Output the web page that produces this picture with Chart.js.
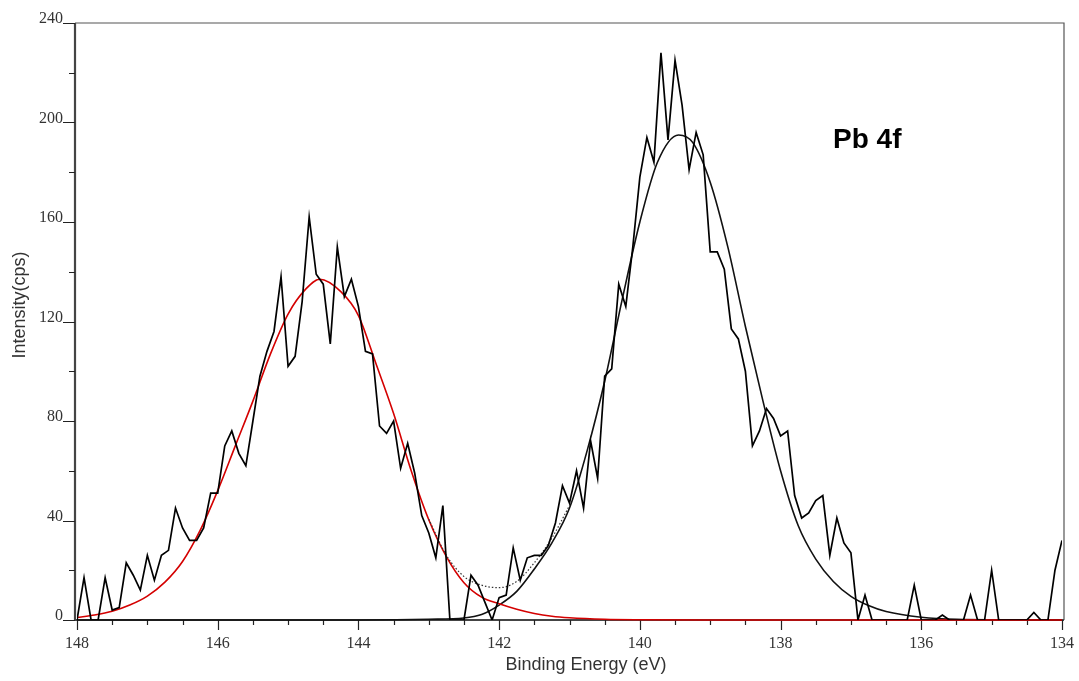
<!DOCTYPE html>
<html>
<head>
<meta charset="utf-8">
<script src="https://cdn.jsdelivr.net/npm/chart.js@4.4.1/dist/chart.umd.min.js"></script>
<style>
  html, body { margin: 0; padding: 0; background: #fff; }
  #wrap { width: 1079px; height: 681px; }
</style>
</head>
<body>
<div id="wrap"><canvas id="myChart" width="1079" height="681"></canvas></div>
<script>
"use strict";

// measured spectrum, binding energy (eV) vs counts
var energy = [
    148.0, 147.9, 147.8, 147.7, 147.6, 147.5, 147.4, 147.3, 147.2, 147.1,
    147.0, 146.9, 146.8, 146.7, 146.6, 146.5, 146.4, 146.3, 146.2, 146.1,
    146.0, 145.9, 145.8, 145.7, 145.6, 145.5, 145.4, 145.3, 145.2, 145.1,
    145.0, 144.9, 144.8, 144.7, 144.6, 144.5, 144.4, 144.3, 144.2, 144.1,
    144.0, 143.9, 143.8, 143.7, 143.6, 143.5, 143.4, 143.3, 143.2, 143.1,
    143.0, 142.9, 142.8, 142.7, 142.6, 142.5, 142.4, 142.3, 142.2, 142.1,
    142.0, 141.9, 141.8, 141.7, 141.6, 141.5, 141.4, 141.3, 141.2, 141.1,
    141.0, 140.9, 140.8, 140.7, 140.6, 140.5, 140.4, 140.3, 140.2, 140.1,
    140.0, 139.9, 139.8, 139.7, 139.6, 139.5, 139.4, 139.3, 139.2, 139.1,
    139.0, 138.9, 138.8, 138.7, 138.6, 138.5, 138.4, 138.3, 138.2, 138.1,
    138.0, 137.9, 137.8, 137.7, 137.6, 137.5, 137.4, 137.3, 137.2, 137.1,
    137.0, 136.9, 136.8, 136.7, 136.6, 136.5, 136.4, 136.3, 136.2, 136.1,
    136.0, 135.9, 135.8, 135.7, 135.6, 135.5, 135.4, 135.3, 135.2, 135.1,
    135.0, 134.9, 134.8, 134.7, 134.6, 134.5, 134.4, 134.3, 134.2, 134.1,
    134.0
];
var counts = [
    0, 17, 0, 0, 17, 4, 5, 23, 18, 12,
    26, 16, 26, 28, 45, 37, 32, 32, 37, 51,
    51, 70, 76, 67, 62, 80, 98, 108, 116, 138,
    102, 106, 128, 162, 139, 135, 111, 150, 130, 137,
    126, 108, 107, 78, 75, 80, 61, 71, 59, 42,
    35, 25, 46, 0, 0, 0, 18, 14, 7, 0,
    9, 10, 29, 16, 25, 26, 26, 30, 39, 54,
    47, 60, 45, 72, 57, 98, 101, 135, 126, 150,
    178, 194, 184, 228, 193, 225, 207, 181, 196, 187,
    148, 148, 141, 117, 113, 100, 70, 76, 85, 81,
    74, 76, 50, 41, 43, 48, 50, 26, 41, 31,
    27, 0, 10, 0, 0, 0, 0, 0, 0, 14,
    0, 0, 0, 2, 0, 0, 0, 10, 0, 0,
    20, 0, 0, 0, 0, 0, 3, 0, 0, 20,
    32
];

// fitted component at higher binding energy (red)
var redFitE = [148, 147.75, 147.5, 147.25, 147, 146.75, 146.5, 146.25, 146, 145.75,
    145.5, 145.25, 145, 144.75, 144.55, 144.25, 144, 143.75, 143.5, 143.25,
    143, 142.75, 142.5, 142.25, 142, 141.75, 141.5, 141.25, 141, 140.5,
    140, 139, 134];
var redFitY = [1, 2, 3.5, 6, 9.6, 15.2, 23.5, 36, 52, 70,
    88, 107, 123, 133, 137, 132, 122.4, 103, 83, 60,
    40.3, 25.5, 15, 9.2, 6.5, 4.3, 2.6, 1.5, 0.9, 0.3,
    0.1, 0, 0];

// fitted component at lower binding energy (black)
var blackFitE = [148, 144, 143.5, 143, 142.5, 142.25, 142, 141.75, 141.5, 141.25,
    141, 140.75, 140.5, 140.25, 140, 139.75, 139.45, 139.25, 139, 138.75,
    138.5, 138.25, 138, 137.75, 137.5, 137.25, 137, 136.75, 136.5, 136, 135.5, 134];
var blackFitY = [0, 0, 0.1, 0.3, 0.8, 2.2, 6, 11.5, 20.5, 31,
    45, 68, 96, 129, 160, 184, 195, 192, 176, 150,
    118, 88, 60, 38, 24.5, 15.5, 9.5, 5.8, 3.4, 1.1, 0.3, 0];

// envelope (sum of fits), dotted where the two overlap
var envE = [143.0, 142.75, 142.5, 142.25, 142.0, 141.75, 141.5, 141.25, 141.0];
var envY = [40.5, 26, 17.5, 14, 13, 15.5, 23, 33, 46];

var xTickLabels = [148, 146, 144, 142, 140, 138, 136, 134];
var yTickLabels = [0, 40, 80, 120, 160, 200, 240];

function pts(xs, ys) {
    return xs.map(function (x, i) { return { x: x, y: ys[i] }; });
}

var framePlugin = {
    id: 'frame',
    beforeDatasetsDraw: function (chart) {
        var ctx = chart.ctx, a = chart.chartArea;
        var xs = chart.scales.x, ys = chart.scales.y;
        var l = a.left - 2, r = a.right + 2, t = a.top, b = a.bottom;
        ctx.save();
        ctx.strokeStyle = '#555';
        ctx.lineWidth = 1.2;
        ctx.beginPath();
        ctx.moveTo(l, t); ctx.lineTo(r, t); ctx.lineTo(r, b);
        ctx.stroke();
        ctx.strokeStyle = '#444';
        ctx.lineWidth = 2.2;
        ctx.beginPath();
        ctx.moveTo(l, t); ctx.lineTo(l, b); ctx.lineTo(r, b);
        ctx.stroke();

        ctx.strokeStyle = '#222';
        ctx.lineWidth = 1.2;
        ctx.beginPath();
        var v, p;
        for (v = 0; v <= 240; v += 20) {
            p = Math.round(ys.getPixelForValue(v)) + 0.5;
            ctx.moveTo(l - (v % 40 === 0 ? 12 : 6), p);
            ctx.lineTo(l, p);
        }
        for (v = 134; v <= 148; v += 0.5) {
            p = Math.round(xs.getPixelForValue(v)) + 0.5;
            ctx.moveTo(p, b);
            ctx.lineTo(p, b + (v % 2 === 0 ? 10 : 5));
        }
        ctx.stroke();
        ctx.restore();
    },
    afterDraw: function (chart) {
        var ctx = chart.ctx;
        ctx.save();
        ctx.fillStyle = '#333';
        ctx.font = '18px "Liberation Sans", Arial, sans-serif';
        ctx.textAlign = 'center';
        ctx.textBaseline = 'middle';
        ctx.fillText('Binding Energy (eV)', 586, 665);
        ctx.translate(20, 305);
        ctx.rotate(-Math.PI / 2);
        ctx.fillText('Intensity(cps)', 0, 0);
        ctx.restore();

        ctx.save();
        ctx.fillStyle = '#000';
        ctx.font = 'bold 28px "Liberation Sans", Arial, sans-serif';
        ctx.textAlign = 'left';
        ctx.textBaseline = 'alphabetic';
        ctx.fillText('Pb 4f', 833, 148);
        ctx.restore();
    }
};

var tickFont = { family: '"Liberation Serif", "Times New Roman", serif', size: 16 };

var ctx = document.getElementById("myChart");
var myChart = new Chart(ctx, {
    type: 'line',
    data: {
        datasets: [{
            label: 'Data',
            data: pts(energy, counts),
            borderColor: '#000',
            borderWidth: 1.7,
            pointRadius: 0,
            tension: 0,
            order: 0
        }, {
            label: 'Envelope',
            data: pts(envE, envY),
            borderColor: '#333',
            borderWidth: 1.2,
            borderDash: [1.5, 2],
            pointRadius: 0,
            cubicInterpolationMode: 'monotone',
            order: 1
        }, {
            label: 'Fit 1',
            data: pts(redFitE, redFitY),
            borderColor: '#d40000',
            borderWidth: 1.6,
            pointRadius: 0,
            cubicInterpolationMode: 'monotone',
            clip: 4,
            order: 2
        }, {
            label: 'Fit 2',
            data: pts(blackFitE, blackFitY),
            borderColor: '#111',
            borderWidth: 1.6,
            pointRadius: 0,
            cubicInterpolationMode: 'monotone',
            clip: 4,
            order: 3
        }]
    },
    options: {
        responsive: false,
        animation: false,
        events: [],
        layout: { padding: { left: 0, top: 23, right: 17, bottom: 0 } },
        plugins: { legend: { display: false }, tooltip: { enabled: false } },
        scales: {
            x: {
                type: 'linear',
                reverse: true,
                min: 134,
                max: 148,
                grid: { display: false },
                border: { display: false },
                ticks: {
                    stepSize: 2,
                    autoSkip: false,
                    maxRotation: 0,
                    padding: 6,
                    color: '#333',
                    font: tickFont,
                    callback: function (v) { return xTickLabels.indexOf(v) >= 0 ? String(v) : ''; }
                },
                afterFit: function (s) {
                    s.height = 61;
                    s.paddingLeft = 0;
                    s.paddingRight = 0;
                }
            },
            y: {
                type: 'linear',
                min: 0,
                max: 240,
                grid: { display: false },
                border: { display: false },
                ticks: {
                    stepSize: 40,
                    padding: 6,
                    labelOffset: -4,
                    color: '#333',
                    font: tickFont,
                    callback: function (v) { return yTickLabels.indexOf(v) >= 0 ? String(v) : ''; }
                },
                afterFit: function (s) {
                    s.width = 77;
                    s.paddingTop = 0;
                    s.paddingBottom = 0;
                }
            }
        }
    },
    plugins: [framePlugin]
});
</script>
</body>
</html>
